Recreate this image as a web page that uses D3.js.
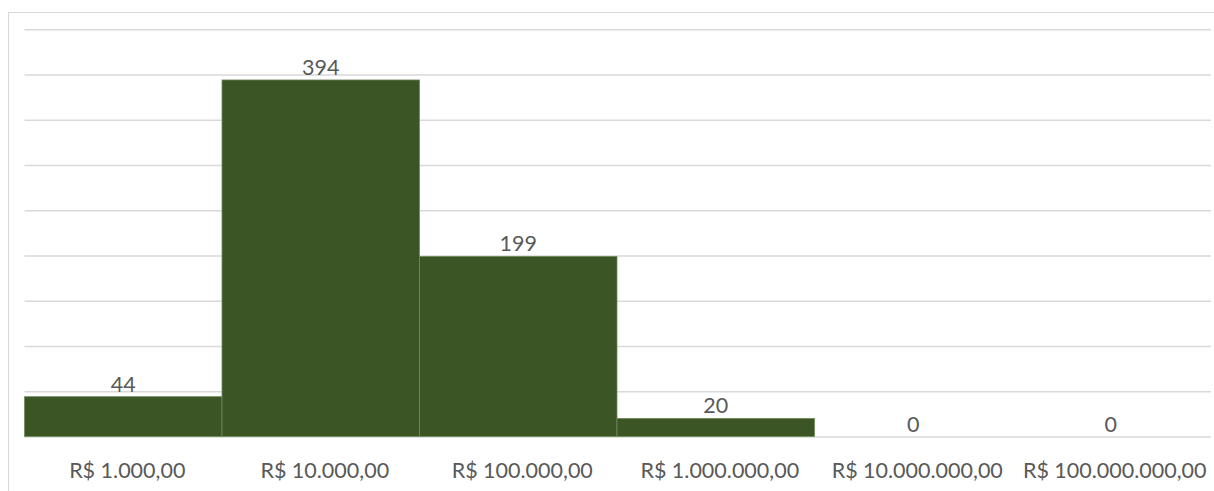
<!DOCTYPE html>
<html>
<head>
<meta charset="utf-8">
<script src="https://cdn.jsdelivr.net/npm/d3@7"></script>
<style>
  html, body { margin: 0; padding: 0; background: #fff; }
  svg { display: block; }
  text { font-family: Lato, "Open Sans", sans-serif; fill: #595959; }
</style>
</head>
<body>
<svg id="chart" width="1214" height="491"></svg>
<script>
// Faixas de valor e quantidade de registros em cada uma
const categories = ["R$ 1.000,00", "R$ 10.000,00", "R$ 100.000,00", "R$ 1.000.000,00", "R$ 10.000.000,00", "R$ 100.000.000,00"];
const counts = [44, 394, 199, 20, 0, 0];
const yTicks = [0, 50, 100, 150, 200, 250, 300, 350, 400, 450];

const svg = d3.select("#chart");
const W = 1214, H = 491;
const plot = { left: 24.5, right: 1209.5, top: 29.3, bottom: 436.5 };
const fontSize = 21.5;

// chart frame
svg.append("rect")
  .attr("x", 8.5).attr("y", 12.5)
  .attr("width", W + 10).attr("height", H + 10)
  .attr("fill", "#fff")
  .attr("stroke", "#d9d9d9").attr("stroke-width", 1);

const x = d3.scaleBand().domain(categories).range([plot.left, plot.right]).padding(0);
const y = d3.scaleLinear().domain([0, 450]).range([plot.bottom, plot.top]);

// horizontal gridlines
const grid = d3.axisLeft(y).tickValues(yTicks).tickSize(-(plot.right + 1.5 - plot.left)).tickFormat("");
svg.append("g")
  .attr("transform", `translate(${plot.left},0)`)
  .call(grid)
  .call(g => g.select(".domain").remove())
  .call(g => g.selectAll(".tick line").attr("stroke", "#d9d9d9").attr("stroke-width", 1.4));

// bars
svg.append("g").selectAll("rect")
  .data(counts)
  .join("rect")
  .attr("x", (d, i) => x(categories[i]))
  .attr("y", d => y(d))
  .attr("width", x.bandwidth())
  .attr("height", d => y(0) - y(d))
  .attr("fill", "#3b5624")
  .attr("stroke", "#6e8a5c")
  .attr("stroke-width", 0.8);

// value labels
svg.append("g").selectAll("text")
  .data(counts)
  .join("text")
  .attr("x", (d, i) => x(categories[i]) + x.bandwidth() / 2)
  .attr("y", d => y(d) - 5)
  .attr("text-anchor", "middle")
  .attr("font-size", fontSize)
  .text(d => d);

// category axis
const xAxis = d3.axisBottom(x).tickSize(0).tickPadding(0);
svg.append("g")
  .attr("transform", `translate(4,${plot.bottom})`)
  .call(xAxis)
  .call(g => g.select(".domain").remove())
  .call(g => g.selectAll(".tick text")
    .attr("y", 41.5).attr("dy", 0)
    .attr("font-size", fontSize)
    .attr("font-family", "Lato, 'Open Sans', sans-serif")
    .attr("fill", "#595959"));
</script>
</body>
</html>
